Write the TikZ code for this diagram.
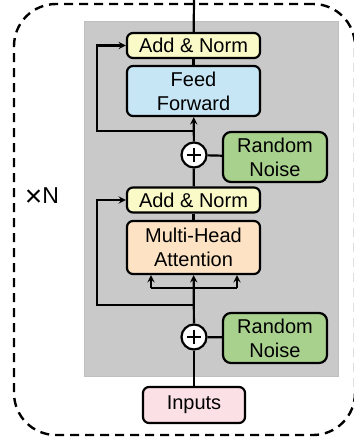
\documentclass[tikz,border=0pt]{standalone}
\usepackage{fontspec}
\setmainfont{Liberation Sans}
\usepackage{xcolor}
\usetikzlibrary{shapes, arrows, positioning, calc}
\definecolor{normcol}{HTML}{FAFAC8}
\definecolor{ffcol}{HTML}{C6E6F6}
\definecolor{attcol}{HTML}{FDE3C4}
\definecolor{noisecol}{HTML}{A9D18E}
\definecolor{inputcol}{HTML}{FBE1E5}
\definecolor{blockcol}{HTML}{C9C9C9}
\tikzset{
    box/.style={rectangle, rounded corners=6pt, draw, line width=2.2pt, align=center, inner sep=0pt, minimum width=133pt, font=\fontsize{20}{24}\selectfont},
    addnorm/.style={box, fill=normcol, minimum height=25pt},
    ffbox/.style={box, fill=ffcol, minimum height=50pt},
    attbox/.style={box, fill=attcol, minimum height=53pt},
    noise/.style={box, rounded corners=8pt, fill=noisecol, minimum width=104pt, minimum height=50pt},
    inbox/.style={box, fill=inputcol, minimum width=102pt, minimum height=36pt},
    plus/.style={circle, draw, fill=white, line width=2.2pt, minimum size=25pt, inner sep=0pt,
        path picture={\draw[line width=2.6pt] ([xshift=-7pt]path picture bounding box.center) -- ([xshift=7pt]path picture bounding box.center)
            ([yshift=-7pt]path picture bounding box.center) -- ([yshift=7pt]path picture bounding box.center);}},
    arrow/.style={->, >=stealth, line width=2.2pt},
    link/.style={line width=2.2pt}
}
\begin{document}
\begin{tikzpicture}[x=1pt, y=-1pt]
    \useasboundingbox (0,0) rectangle (353,441);

    % Outer repeat frame
    \node[draw, dash pattern=on 9pt off 6pt, line width=2.4pt, rounded corners=42pt,
        minimum width=341pt, minimum height=431pt] (frame) at (184.5,219.5) {};
    \node[font=\fontsize{23}{26}\selectfont] (times) at (42,197) {\raisebox{-2.5pt}{\fontsize{30}{26}\selectfont ×}N};

    % Block
    \node[fill=blockcol, draw=black!25, line width=0.8pt, minimum width=254pt, minimum height=355pt] (block) at (211,198.5) {};

    % Upper half
    \node[addnorm] (an1) at (193.5,45.5) {Add \& Norm};
    \node[ffbox] (ff) at (193.5,91) {Feed\\Forward};
    \node[plus] (plus1) at (194,155) {};
    \node[noise] (noise1) at (275,157) {Random\\Noise};

    % Lower half
    \node[addnorm] (an2) at (193.5,200) {Add \& Norm};
    \node[attbox] (mha) at (193.5,247.5) {Multi-Head\\Attention};
    \node[plus] (plus2) at (194,337) {};
    \node[noise] (noise2) at (275,338) {Random\\Noise};

    % Input
    \node[inbox] (inputs) at (194,405) {Inputs};

    % Points on the lines
    \coordinate (top) at (194,0);
    \coordinate (split1) at (194,131);
    \coordinate (split2) at (194,305);
    \coordinate (forkl) at (151,288);
    \coordinate (forkr) at (237,288);

    % Connections
    \draw[link] (an1) -- (top);
    \draw[link] (an1) -- (ff);
    \draw[arrow] (plus1) -- (ff);
    \draw[arrow] (split1) -- ++(-97,0) |- (an1.west);
    \draw[link] (plus1) -- (noise1);
    \draw[link] (an2) -- (plus1);
    \draw[link] (an2) -- (mha);
    \draw[arrow] (plus2) -- (mha);
    \draw[link] (forkl) -- (forkr);
    \foreach \c in {forkl,forkr} \draw[arrow] (\c) -- (\c |- mha.south);
    \draw[arrow] (split2) -- ++(-97,0) |- (an2.west);
    \draw[link] (plus2) -- (noise2);
    \draw[link] (inputs) -- (plus2);
\end{tikzpicture}
\end{document}
